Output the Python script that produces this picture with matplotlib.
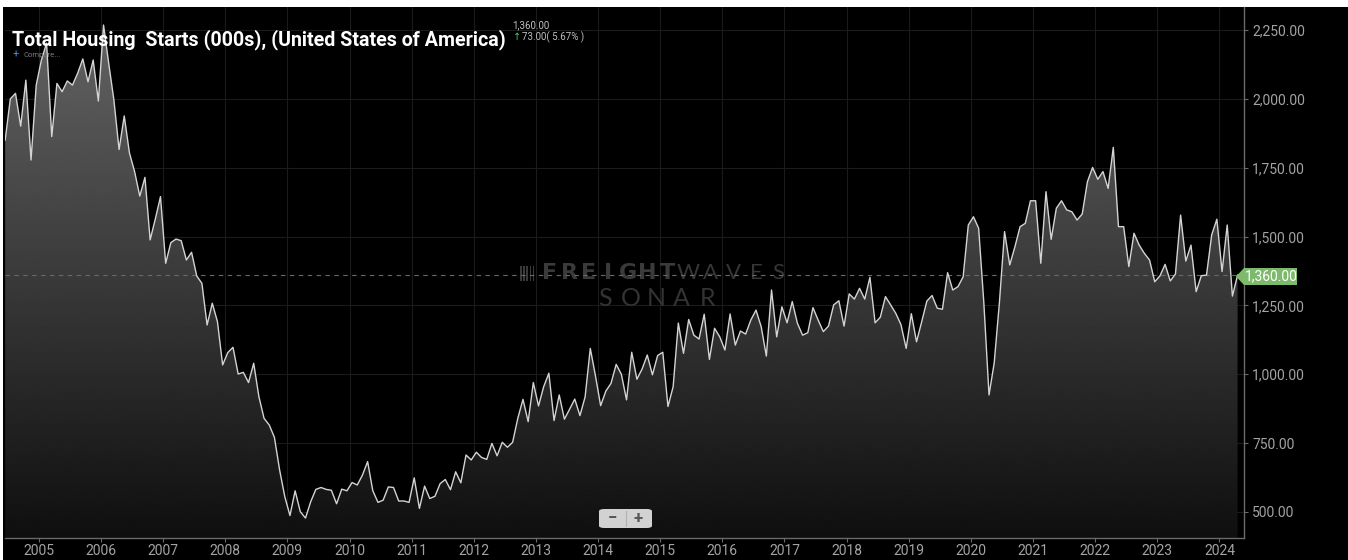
import matplotlib
matplotlib.use("Agg")
import matplotlib.pyplot as plt
import numpy as np
import pandas as pd
from matplotlib.patches import Polygon, Rectangle, FancyBboxPatch
from matplotlib.ticker import FuncFormatter

# monthly total housing starts (000s, SAAR), Jun 2004 .. Apr 2024
months = pd.date_range("2004-06-01", "2024-04-01", freq="MS")
starts = [
    1850, 2000, 2020, 1901, 2068, 1778, 2050,                                # 2004
    2141, 2202, 1863, 2056, 2026, 2065, 2050, 2093, 2145, 2062, 2141, 1992,  # 2005
    2268, 2129, 1996, 1816, 1938, 1804, 1736, 1647, 1715, 1488, 1564, 1645,  # 2006
    1403, 1478, 1491, 1485, 1415, 1443, 1357, 1330, 1179, 1258, 1191, 1034,  # 2007
    1079, 1098, 1001, 1007, 970, 1040, 919, 840, 816, 771, 653, 556,         # 2008
    487, 577, 501, 478, 537, 582, 589, 582, 579, 530, 583, 577,              # 2009
    607, 598, 634, 683, 577, 535, 543, 591, 589, 540, 540, 535,              # 2010
    624, 513, 594, 549, 557, 603, 618, 581, 646, 606, 707, 689,              # 2011
    717, 698, 691, 749, 704, 753, 735, 753, 840, 909, 828, 970,              # 2012
    885, 955, 1004, 832, 925, 837, 873, 910, 850, 918, 1094, 994,            # 2013
    886, 939, 967, 1036, 1000, 907, 1080, 982, 1019, 1070, 998, 1068,        # 2014
    1080, 883, 955, 1186, 1076, 1199, 1142, 1128, 1218, 1054, 1167, 1136,    # 2015
    1088, 1219, 1106, 1157, 1146, 1197, 1233, 1173, 1066, 1306, 1136, 1245,  # 2016
    1187, 1264, 1185, 1142, 1151, 1242, 1197, 1155, 1175, 1252, 1267, 1175,  # 2017
    1292, 1273, 1312, 1273, 1352, 1187, 1207, 1282, 1252, 1221, 1180, 1094,  # 2018
    1220, 1118, 1191, 1266, 1286, 1240, 1236, 1369, 1306, 1318, 1354, 1542,  # 2019
    1572, 1530, 1259, 925, 1041, 1259, 1518, 1397, 1463, 1536, 1548, 1630,   # 2020
    1630, 1403, 1663, 1490, 1603, 1630, 1597, 1590, 1560, 1582, 1699, 1751,  # 2021
    1708, 1736, 1675, 1824, 1536, 1536, 1391, 1512, 1469, 1439, 1415, 1336,  # 2022
    1357, 1399, 1339, 1364, 1578, 1411, 1469, 1300, 1358, 1360, 1506, 1563,  # 2023
    1373, 1542, 1284, 1360,                                                  # 2024
]
last_value = 1360
change = 73.00
change_pct = 5.67
year_ticks = list(range(2005, 2025))
value_ticks = [500, 750, 1000, 1250, 1500, 1750, 2000, 2250]

W, H = 1348, 560
def px(x, y):
    # pixel position (from top-left) -> figure fraction
    return x / W, 1 - y / H

def spaced(x0, x1, yc, s, **kw):
    # letter-spaced watermark text, drawn under the series line
    step = (x1 - x0) / len(s)
    for i, ch in enumerate(s):
        ax.text(*px(x0 + step * (i + 0.5), yc), ch, ha='center', va='center',
                transform=fig.transFigure, **kw)

plt.rcParams['font.family'] = ['Roboto', 'DejaVu Sans']

# points sit mid-month
x = months.year + (months.month - 1) / 12 + 1 / 24
y = np.array(starts, dtype=float)
YMIN, YMAX = 405.6, 2333.5

fig = plt.figure(figsize=(W / 100, H / 100), dpi=100, facecolor='white')
# black panel (screenshot has a thin white border top / left)
fig.patches.append(Rectangle(px(3, 560), 1 - 3 / W, 1 - 7 / H,
                             transform=fig.transFigure, facecolor='black',
                             edgecolor='none', zorder=-5))

l, t = px(5, 7)
r, b = px(1244, 538)
ax = fig.add_axes([l, b, r - l, t - b])
ax.set_facecolor('black')

# gradient area fill clipped to the series
grad = np.linspace(0.40, 0.06, 256).reshape(-1, 1)
im = ax.imshow(grad, cmap='gray', vmin=0, vmax=1, aspect='auto',
               extent=[x[0] - 1, x[-1], YMIN, YMAX], zorder=1,
               interpolation='bilinear')
verts = np.vstack([np.column_stack([x, y]),
                   [[x[-1], 0], [x[0], 0]]])
clip = Polygon(verts, closed=True, transform=ax.transData,
               facecolor='none', edgecolor='none')
ax.add_patch(clip)
im.set_clip_path(clip)
ax.set_xlim(2004.456, 2024.395)
ax.set_ylim(YMIN, YMAX)

ax.plot(x, y, color='#d4d4d4', lw=1.0, zorder=3)
ax.axhline(last_value, color='#56784a', lw=0.8, ls=(0, (4, 4)), zorder=2)

ax.set_xticks(year_ticks)
ax.set_xticklabels([str(v) for v in year_ticks])
ax.set_yticks(value_ticks)
ax.yaxis.set_major_formatter(FuncFormatter(lambda v, p: f"{v:,.2f}"))
ax.yaxis.tick_right()
ax.tick_params(axis='both', colors='#6a6a6a', labelcolor='#a3a3a3',
               labelsize=10, length=3, width=0.8)
ax.tick_params(axis='x', pad=1.5)
ax.tick_params(axis='y', pad=3)
ax.grid(True, color='#1b1b1b', lw=0.8, zorder=0)
ax.set_axisbelow(True)
for side in ['top', 'left']:
    ax.spines[side].set_visible(False)
for side in ['right', 'bottom']:
    ax.spines[side].set_color('#6a6a6a')
    ax.spines[side].set_linewidth(1.0)

# watermark
spaced(540, 677, 273, "FREIGHT", color='#3a3a3a', fontsize=16,
       fontweight='heavy', family='DejaVu Sans', zorder=1.5)
spaced(677, 790, 273, "WAVES", color='#363636', fontsize=16,
       fontweight='normal', family='Lato', zorder=1.5)
spaced(592, 720, 298, "SONAR", color='#333333', fontsize=18,
       fontweight='normal', family='Lato', zorder=1.5)
for i in range(5):
    ax.add_patch(Rectangle(px(520 + i * 3.2, 281), 1.6 / W, 15 / H,
                           transform=fig.transFigure, clip_on=False,
                           facecolor='#3a3a3a', edgecolor='none', zorder=1.5))

# title block
fig.text(*px(12, 45), "Total Housing  Starts (000s), (United States of America)",
         color='white', fontsize=14.1, fontweight='bold', va='baseline')
fig.text(*px(512, 25), f"{last_value:,.2f}", color='#c0c0c0', fontsize=7,
         va='center')
fig.text(*px(513, 37), "\u2191", color='#3ecf6a', fontsize=7, va='center',
         family='DejaVu Sans')
fig.text(*px(522, 37), f"{change:.2f}( {change_pct:.2f}% )", color='#c0c0c0',
         fontsize=7, va='center')
fig.text(*px(13, 55), "+", color='#4a8ee0', fontsize=8, va='center')
fig.text(*px(24, 55), "Compare...", color='#7a7a7a', fontsize=5.5, va='center')

# last-value flag on the right axis
flag = [px(1236, 276.5), px(1244, 268), px(1297, 268),
        px(1297, 285), px(1244, 285)]
fig.patches.append(Polygon(flag, closed=True, transform=fig.transFigure,
                           facecolor='#7dba6c', edgecolor='none', zorder=5))
fig.text(*px(1271, 276.5), f"{last_value:,.2f}", color='white', fontsize=10,
         ha='center', va='center', zorder=6)

# zoom buttons
bx, by = px(599, 528)
fig.patches.append(FancyBboxPatch((bx, by), 53 / W, 19 / H,
                                  boxstyle="round,pad=0,rounding_size=0.004",
                                  transform=fig.transFigure,
                                  facecolor='#d2d2d2', edgecolor='none', zorder=5))
fig.lines.append(plt.Line2D([625.5 / W, 625.5 / W], [1 - 511 / H, 1 - 526 / H],
                            transform=fig.transFigure, color='#b0b0b0', lw=0.8,
                            zorder=6))
fig.text(*px(612, 518.5), "\u2212", color='#555555', fontsize=12,
         fontweight='bold', ha='center', va='center', zorder=6)
fig.text(*px(638, 518.5), "+", color='#555555', fontsize=12,
         fontweight='bold', ha='center', va='center', zorder=6)

fig.savefig("out.png", dpi=100, facecolor=fig.get_facecolor())
